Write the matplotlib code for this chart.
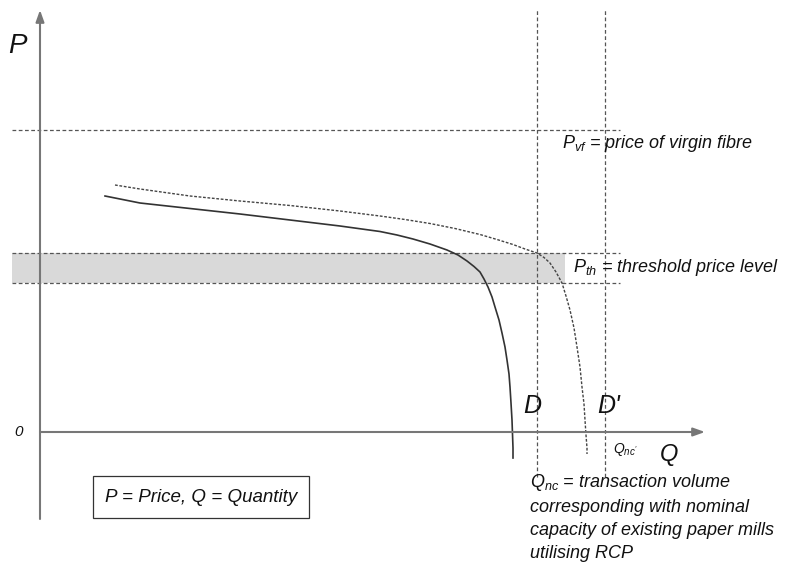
import matplotlib
matplotlib.use("Agg")
import numpy as np
from matplotlib import pyplot as plt

plt.rcParams['font.family'] = ['Liberation Sans', 'DejaVu Sans']
plt.rcParams['mathtext.fontset'] = 'custom'
plt.rcParams['mathtext.it'] = 'Liberation Sans:italic'
plt.rcParams['mathtext.rm'] = 'Liberation Sans:italic'

# demand curve D (solid) and shifted curve D' (dashed)
q_d = [65, 100, 150, 200, 250, 300, 340, 357, 373, 390, 407, 418, 427, 434, 440, 444,
       448, 452, 455, 459, 462, 465, 467, 469, 470, 471, 472, 473, 473]
p_d = [236, 229, 223.5, 218, 212, 206, 200.5, 197, 193, 188, 182, 177, 171, 165.5, 160, 153,
       145, 135, 125, 112, 99, 85, 72, 58, 45, 29, 12, -16, -26]
q_d2 = [75, 100, 150, 200, 250, 300, 340, 365, 390, 415, 440, 457, 473, 485, 497, 504,
        510, 516, 522, 526, 530, 534, 537, 540, 542, 544, 545, 546, 547, 547]
p_d2 = [247, 243, 236, 231, 226.5, 221, 216, 212.5, 208.5, 203.5, 197.5, 192.5, 187.5, 183, 179, 174.5,
        169, 160, 149, 136, 122, 104, 85, 65, 45, 28, 12, -3, -16, -22]

# reference levels
p_vf = 302
p_th_low, p_th_high = 149, 179
q_nc, q_nc2 = 497, 565

fig = plt.figure(figsize=(7.85, 5.64), dpi=100)
ax = fig.add_axes([0, 0, 1, 1])
ax.set_xlim(-40, 745)
ax.set_ylim(-132, 432)
ax.axis('off')

dash_col = '#555555'
ax.fill_between([-28, 525], p_th_low, p_th_high, color='#d9d9d9', lw=0, zorder=1)
for lev in [p_vf, p_th_low, p_th_high]:
    ax.plot([-28, 580], [lev, lev], color=dash_col, lw=0.9, dashes=(3, 2), zorder=2)
for q in [q_nc, q_nc2]:
    ax.plot([q, q], [-45, 422], color=dash_col, lw=0.9, dashes=(3, 2), zorder=2)

ax.plot(q_d, p_d, color='#333333', lw=1.2, zorder=3)
ax.plot(q_d2, p_d2, color='#444444', lw=1.0, dashes=(2, 1.2), zorder=3)

# axes with arrows
ax.annotate('', xy=(0, 422), xytext=(0, -87),
            arrowprops=dict(arrowstyle='-|>,head_length=0.7,head_width=0.25',
                            color='#777777', lw=1.5, shrinkA=0, shrinkB=0))
ax.annotate('', xy=(665, 0), xytext=(0, 0),
            arrowprops=dict(arrowstyle='-|>,head_length=0.7,head_width=0.25',
                            color='#777777', lw=1.5, shrinkA=0, shrinkB=0))

it = dict(fontstyle='italic', color='#111111')
ax.text(-32, 386, 'P', fontsize=20, va='center', ha='left', **it)
ax.text(-26, 0, '0', fontsize=11, va='center', ha='left', **it)
ax.text(620, -23, 'Q', fontsize=17, va='center', ha='left', **it)
ax.text(483, 26, 'D', fontsize=18, va='center', ha='left', **it)
ax.text(557, 26, "D'", fontsize=18, va='center', ha='left', **it)
ax.text(573, -18, r"$Q_{nc'}$", fontsize=10, va='center', ha='left', **it)

ax.text(522, 288, r'$P_{vf}$ = price of virgin fibre', fontsize=13,
        va='center', ha='left', **it)
ax.text(533, 165, r'$P_{th}$ = threshold price level', fontsize=13,
        va='center', ha='left', **it)
ax.text(490, -40, r'$Q_{nc}$ = transaction volume' + '\ncorresponding with nominal'
        + '\ncapacity of existing paper mills\nutilising RCP',
        fontsize=13, va='top', ha='left', linespacing=1.45, **it)

ax.text(65, -65, 'P = Price, Q = Quantity', fontsize=13.5, va='center', ha='left',
        bbox=dict(boxstyle='square,pad=0.65', fc='white', ec='#333333', lw=0.9), **it)

fig.savefig('out.png', dpi=100)
